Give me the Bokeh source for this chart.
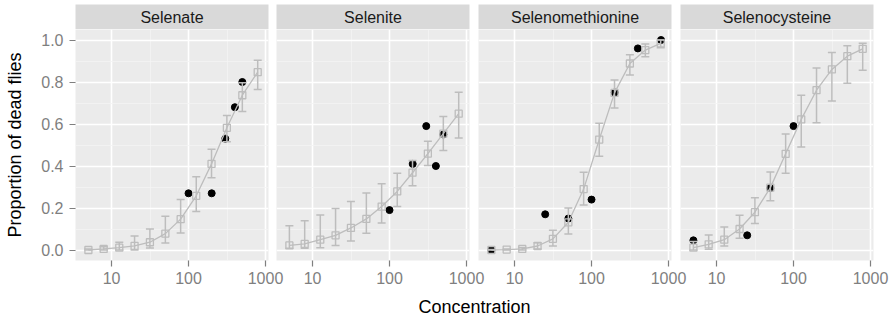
from bokeh.plotting import figure
from bokeh.layouts import row, column
from bokeh.models import FixedTicker, PrintfTickFormatter, Label, Range1d
from bokeh.embed import file_html
from bokeh.resources import INLINE

# ---------------- data ----------------
panels = ["Selenate", "Selenite", "Selenomethionine", "Selenocysteine"]

conc = [5, 7.9, 12.6, 19.9, 31.5, 50, 79, 126, 199, 315, 500, 792]

selenate_fit = [0.00, 0.005, 0.011, 0.02, 0.037, 0.078, 0.147, 0.258, 0.41, 0.582, 0.737, 0.847]
selenate_lo = [0.0, 0.0, 0.0, 0.0, 0.01, 0.033, 0.081, 0.183, 0.344, 0.515, 0.659, 0.764]
selenate_hi = [0.005, 0.015, 0.037, 0.067, 0.10, 0.161, 0.241, 0.349, 0.48, 0.641, 0.796, 0.904]
selenate_obs_conc = [100, 200, 300, 400, 500]
selenate_obs = [0.27, 0.27, 0.53, 0.68, 0.80]

selenite_fit = [0.022, 0.029, 0.049, 0.07, 0.105, 0.148, 0.207, 0.279, 0.368, 0.459, 0.554, 0.649]
selenite_lo = [0.008, 0.008, 0.011, 0.022, 0.043, 0.08, 0.128, 0.207, 0.306, 0.402, 0.474, 0.533]
selenite_hi = [0.116, 0.139, 0.167, 0.198, 0.231, 0.271, 0.316, 0.365, 0.426, 0.518, 0.636, 0.751]
selenite_obs_conc = [100, 200, 300, 400, 500]
selenite_obs = [0.19, 0.41, 0.59, 0.40, 0.55]

selenomet_fit = [0.0, 0.002, 0.005, 0.019, 0.053, 0.132, 0.29, 0.526, 0.748, 0.888, 0.952, 0.984]
selenomet_lo = [0.0, 0.0, 0.0, 0.005, 0.019, 0.076, 0.214, 0.446, 0.676, 0.833, 0.92, 0.963]
selenomet_hi = [0.002, 0.005, 0.012, 0.035, 0.094, 0.20, 0.37, 0.604, 0.809, 0.93, 0.981, 1.0]
selenomet_obs_conc = [5, 25, 50, 100, 200, 400, 800]
selenomet_obs = [0.0, 0.17, 0.15, 0.24, 0.75, 0.96, 1.0]

selenocys_fit = [0.011, 0.027, 0.049, 0.10, 0.18, 0.297, 0.458, 0.622, 0.761, 0.86, 0.923, 0.958]
selenocys_lo = [0.0, 0.003, 0.019, 0.056, 0.126, 0.234, 0.365, 0.49, 0.606, 0.71, 0.794, 0.856]
selenocys_hi = [0.04, 0.072, 0.11, 0.166, 0.249, 0.372, 0.552, 0.737, 0.867, 0.94, 0.973, 0.984]
selenocys_obs_conc = [5, 25, 50, 100]
selenocys_obs = [0.046, 0.07, 0.295, 0.59]

x_ticks = [10, 100, 1000]
x_minor = [3.162, 31.62, 316.2]
y_ticks = [0.0, 0.2, 0.4, 0.6, 0.8, 1.0]
y_minor = [0.1, 0.3, 0.5, 0.7, 0.9]

series = [
    (selenate_fit, selenate_lo, selenate_hi, selenate_obs_conc, selenate_obs),
    (selenite_fit, selenite_lo, selenite_hi, selenite_obs_conc, selenite_obs),
    (selenomet_fit, selenomet_lo, selenomet_hi, selenomet_obs_conc, selenomet_obs),
    (selenocys_fit, selenocys_lo, selenocys_hi, selenocys_obs_conc, selenocys_obs),
]

# ---------------- style / geometry ----------------
GRAY = "#BDBDBD"
PANEL_BG = "#EBEBEB"
STRIP_BG = "#D9D9D9"
TICK_GRAY = "#7F7F7F"
FONT = "Liberation Sans"

X_LO, X_HI = 3.40, 1094
Y_LO, Y_HI = -0.05, 1.05
FRAME_W = 193
FRAME_H = 231
LEFT = 75
OVERHANG = 16
LAST_RIGHT = 21
BOTTOM = 30
STRIP_H = 25
TOP = 4
FRAME_LEFTS = [75, 276, 478, 680]   # where each panel should start

cols = []
prev_end = 0
for i, (name, (fit, lo, hi, oc, ov)) in enumerate(zip(panels, series)):
    first = i == 0
    last = i == len(panels) - 1
    left = LEFT if first else 0
    right = LAST_RIGHT if last else OVERHANG

    strip = figure(frame_width=FRAME_W, frame_height=STRIP_H,
                   x_range=(0, 1), y_range=(0, 1),
                   output_backend="svg", toolbar_location=None,
                   min_border_left=left, min_border_right=right,
                   min_border_top=TOP, min_border_bottom=0,
                   x_axis_location=None, y_axis_location=None,
                   background_fill_color=STRIP_BG, border_fill_alpha=0,
                   outline_line_color=None)
    strip.grid.visible = False
    strip.add_layout(Label(x=0.5, y=0.5, text=name, text_align="center",
                           text_baseline="middle", text_font=FONT,
                           text_font_size="16px", text_color="#1A1A1A"))

    p = figure(frame_width=FRAME_W, frame_height=FRAME_H, x_axis_type="log",
               x_range=Range1d(X_LO, X_HI), y_range=Range1d(Y_LO, Y_HI),
               output_backend="svg", toolbar_location=None,
               min_border_left=left, min_border_right=right,
               min_border_top=0, min_border_bottom=BOTTOM,
               y_axis_location="left" if first else None,
               background_fill_color=PANEL_BG, border_fill_alpha=0,
               outline_line_color=None)

    xt = FixedTicker(ticks=x_ticks, minor_ticks=x_minor)
    yt = FixedTicker(ticks=y_ticks, minor_ticks=y_minor)
    p.xaxis.ticker = xt
    p.xgrid.ticker = xt
    p.ygrid.ticker = yt
    for g in list(p.xgrid) + list(p.ygrid):
        g.grid_line_color = "white"
        g.grid_line_width = 1.6
        g.minor_grid_line_color = "#F4F4F4"
        g.minor_grid_line_width = 0.8

    ax = p.xaxis[0]
    ax.formatter = PrintfTickFormatter(format="%d")
    ax.axis_line_color = None
    ax.major_tick_line_color = TICK_GRAY
    ax.major_tick_line_width = 1.2
    ax.major_tick_out = 6
    ax.major_tick_in = 0
    ax.minor_tick_line_color = None
    ax.major_label_text_font = FONT
    ax.major_label_text_font_size = "16px"
    ax.major_label_text_color = TICK_GRAY
    ax.major_label_standoff = 5

    if first:
        ay = p.yaxis[0]
        ay.ticker = yt
        ay.formatter = PrintfTickFormatter(format="%.1f")
        ay.axis_line_color = None
        ay.major_tick_line_color = TICK_GRAY
        ay.major_tick_line_width = 1.2
        ay.major_tick_out = 6
        ay.major_tick_in = 0
        ay.minor_tick_line_color = None
        ay.major_label_text_font = FONT
        ay.major_label_text_font_size = "16px"
        ay.major_label_text_color = TICK_GRAY
        ay.major_label_standoff = 6
        ay.axis_label = "Proportion of dead flies"
        ay.axis_label_text_font = FONT
        ay.axis_label_text_font_size = "18px"
        ay.axis_label_text_font_style = "normal"
        ay.axis_label_text_color = "black"
        ay.axis_label_standoff = 13

    # observed proportions
    p.scatter(oc, ov, size=7, fill_color="black", line_color="black")
    # fitted curve with intervals
    p.line(conc, fit, line_color=GRAY, line_width=1.3)
    p.segment(x0=conc, y0=lo, x1=conc, y1=hi, line_color=GRAY, line_width=1.5)
    p.scatter(conc, lo, marker="dash", size=8, line_color=GRAY, line_width=1.5)
    p.scatter(conc, hi, marker="dash", size=8, line_color=GRAY, line_width=1.5)
    p.scatter(conc, fit, marker="square", size=7, fill_color=None,
              line_color=GRAY, line_width=1.3)

    c = column(strip, p, spacing=0)
    if not first:
        c.margin = (0, 0, 0, FRAME_LEFTS[i] - prev_end)
    prev_end = FRAME_LEFTS[i] + FRAME_W + right
    cols.append(c)

xlab = figure(frame_width=FRAME_LEFTS[-1] + FRAME_W - LEFT, frame_height=32,
              x_range=(0, 1), y_range=(0, 1),
              output_backend="svg", toolbar_location=None,
              min_border_left=LEFT, min_border_right=LAST_RIGHT,
              min_border_top=0, min_border_bottom=0,
              x_axis_location=None, y_axis_location=None,
              outline_line_color=None, border_fill_alpha=0,
              background_fill_alpha=0)
xlab.grid.visible = False
xlab.add_layout(Label(x=0.5, y=0.5, text="Concentration", text_align="center",
                      text_baseline="middle", text_font=FONT,
                      text_font_size="18px", text_color="black"))

layout = column(row(*cols, spacing=0), xlab, spacing=0)

open("out.html", "w").write(file_html(layout, INLINE))
